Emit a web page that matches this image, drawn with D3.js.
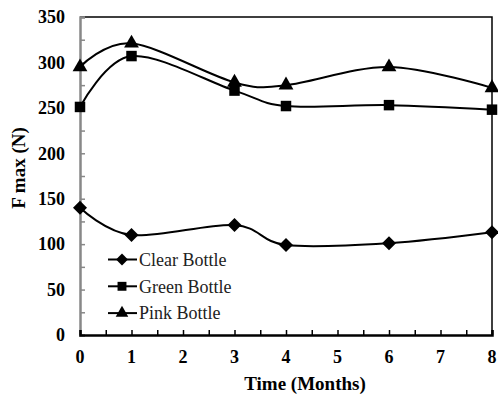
<!DOCTYPE html>
<html><head><meta charset="utf-8">
<script src="https://cdn.jsdelivr.net/npm/d3@7"></script>
<style>body{margin:0;background:#fff}svg{display:block}
text{font-family:"Liberation Serif","Times New Roman","DejaVu Serif",serif;}</style>
</head><body>
<svg id="c" width="498" height="394"></svg>
<script>
const months = [0, 1, 3, 4, 6, 8];
const clearBottle = [140, 110, 121, 99, 101, 113];
const greenBottle = [251, 307, 269, 252, 253, 248];
const pinkBottle = [295, 321, 278, 275, 295, 272];
const seriesNames = ["Clear Bottle", "Green Bottle", "Pink Bottle"];
const xTicks = [0, 1, 2, 3, 4, 5, 6, 7, 8];
const yTicks = [0, 50, 100, 150, 200, 250, 300, 350];

const svg = d3.select("#c");
const L = 80, R = 492, T = 17, B = 335;
const x = d3.scaleLinear().domain([0, 8]).range([L, R]);
const y = d3.scaleLinear().domain([0, 350]).range([B, T]);

// frame top & right
svg.append("path").attr("d", `M${L},${T}H${R}V${B}`).attr("fill","none").attr("stroke","#000").attr("stroke-width",1.5);

// y axis
const ya = svg.append("g").attr("transform", `translate(${L},0)`)
  .call(d3.axisRight(y).tickValues(d3.range(0, 351, 25)).tickSize(5).tickFormat(""));
ya.select(".domain").attr("stroke","#888").attr("stroke-width",2.5);
ya.selectAll(".tick line").attr("stroke","#888").attr("stroke-width",1.5);
svg.append("g").selectAll("text").data(yTicks).join("text")
  .attr("x", 65).attr("y", d => y(d)).attr("dy","0.35em").attr("text-anchor","end")
  .attr("font-weight","bold").attr("font-size",18).text(d => d);

// x axis
const xa = svg.append("g").attr("transform", `translate(0,${B})`)
  .call(d3.axisTop(x).tickValues(d3.range(0, 8.01, 0.5)).tickSize(5).tickFormat(""));
xa.select(".domain").attr("stroke","#000").attr("stroke-width",2.5);
xa.selectAll(".tick line").attr("stroke","#000").attr("stroke-width",1.5);
svg.append("g").selectAll("text").data(xTicks).join("text")
  .attr("x", d => x(d)).attr("y", 363).attr("text-anchor","middle")
  .attr("font-weight","bold").attr("font-size",18).text(d => d);

// titles
svg.append("text").attr("x", 305).attr("y", 390).attr("text-anchor","middle")
  .attr("font-weight","bold").attr("font-size",19).text("Time (Months)");
svg.append("text").attr("transform","translate(25,168) rotate(-90)").attr("text-anchor","middle")
  .attr("font-weight","bold").attr("font-size",19).text("F max (N)");

const line = d3.line().x(d => x(d[0])).y(d => y(d[1])).curve(d3.curveCardinal.tension(0));
const data = [clearBottle, greenBottle, pinkBottle];
const markers = [
  d3.symbol(d3.symbolSquare, 98),
  d3.symbol(d3.symbolSquare, 110),
  d3.symbol(d3.symbolTriangle, 95)
];
const rot = i => i === 0 ? " rotate(45)" : "";
data.forEach((vals, i) => {
  const pts = months.map((m, j) => [m, vals[j]]);
  svg.append("path").datum(pts).attr("d", line).attr("fill","none").attr("stroke","#000").attr("stroke-width",2);
  svg.append("g").selectAll("path").data(pts).join("path")
    .attr("transform", d => `translate(${x(d[0])},${y(d[1])})${rot(i)}`)
    .attr("d", markers[i]).attr("fill","#000");
});

// legend
const lg = svg.append("g");
seriesNames.forEach((n, i) => {
  const cy = 259.5 + i * 26.8;
  lg.append("line").attr("x1",108).attr("x2",137).attr("y1",cy).attr("y2",cy).attr("stroke","#000").attr("stroke-width",2);
  lg.append("path").attr("transform",`translate(122,${cy})${rot(i)} scale(0.85)`).attr("d", markers[i]).attr("fill","#000");
  lg.append("text").attr("x",139).attr("y",cy).attr("dy","0.35em")
    .attr("font-size",18).attr("fill","#222").text(n);
});
</script>
</body></html>
